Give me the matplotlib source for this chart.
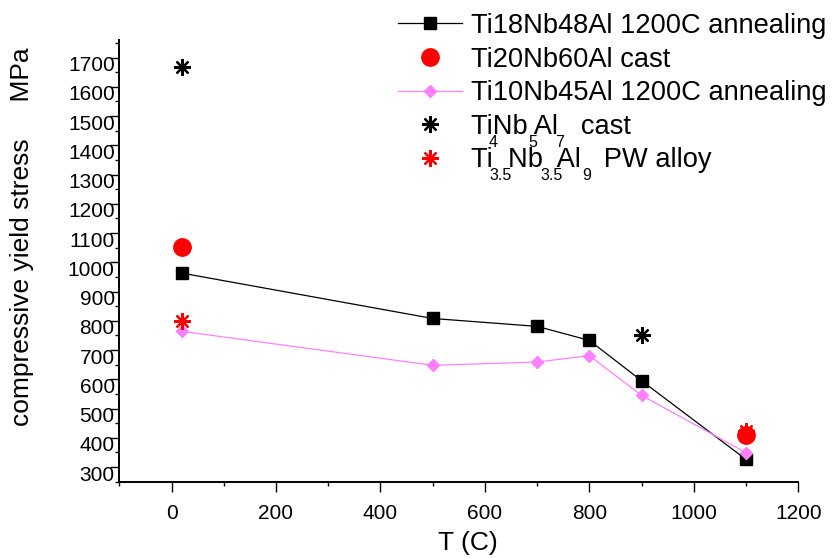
import matplotlib

matplotlib.use("Agg")
import matplotlib.pyplot as plt
from matplotlib.ticker import MultipleLocator
from matplotlib.transforms import ScaledTranslation

plt.rcParams["font.family"] = ["Liberation Sans", "DejaVu Sans"]

# Ti18Nb48Al, annealed at 1200C
t_ti18 = [20, 500, 700, 800, 900, 1100]
s_ti18 = [963, 808, 781, 733, 595, 326]

# Ti10Nb45Al, annealed at 1200C
t_ti10 = [20, 500, 700, 800, 900, 1100]
s_ti10 = [764, 648, 659, 681, 545, 349]

# Ti20Nb60Al cast
t_ti20 = [20, 1100]
s_ti20 = [1054, 408]

# Ti4Nb5Al7 cast
t_ti4 = [20, 900]
s_ti4 = [1669, 752]

# Ti3.5Nb3.5Al9 PW alloy
t_pw = [20, 1100]
s_pw = [801, 423]

x_ticks = [0, 200, 400, 600, 800, 1000, 1200]
y_ticks = list(range(300, 1800, 100))

PINK = "#ff80ff"
star = (8, 2, 0)

fig = plt.figure(figsize=(8.35, 5.58), dpi=100)
ax = fig.add_axes([119.3 / 835, 1 - 481.7 / 558, 679 / 835, 441.7 / 558])

l18, = ax.plot(t_ti18, s_ti18, color="black", lw=0.9, marker="s", ms=8,
               markerfacecolor="black", markeredgecolor="black", zorder=3)
c20, = ax.plot(t_ti20, s_ti20, ls="none", marker="o", ms=12.5, color="red", zorder=5)
l10, = ax.plot(t_ti10, s_ti10, color=PINK, lw=0.9, marker="D", ms=6.3,
               markerfacecolor=PINK, markeredgecolor=PINK, zorder=4)
st4, = ax.plot(t_ti4, s_ti4, ls="none", marker=star, ms=12, mew=1.6,
               color="black", zorder=4)
stpw, = ax.plot(t_pw, s_pw, ls="none", marker=star, ms=12, mew=1.6,
                color="red", zorder=4)

ax.set_xlim(-100, 1200)
ax.set_ylim(250, 1760)
ax.set_xticks(x_ticks)
ax.set_yticks(y_ticks)
ax.xaxis.set_minor_locator(MultipleLocator(100))
ax.yaxis.set_minor_locator(MultipleLocator(50))

for side in ["top", "right"]:
    ax.spines[side].set_visible(False)
for side in ["left", "bottom"]:
    ax.spines[side].set_linewidth(1.4)

ax.tick_params(axis="x", which="major", direction="out", length=7, width=1,
               labelsize=15, pad=9)
ax.tick_params(axis="x", which="minor", direction="out", length=3.1, width=1)
ax.tick_params(axis="y", which="major", direction="out", length=6.3, width=1,
               labelsize=15, pad=-3)
ax.tick_params(axis="y", which="minor", direction="out", length=3.1, width=1)

# labels of the original sit a little below their ticks
shift = ScaledTranslation(0, -0.06, fig.dpi_scale_trans)
for lab in ax.get_yticklabels():
    lab.set_transform(lab.get_transform() + shift)

ax.set_xlabel("T (C)", fontsize=19)
ax.xaxis.set_label_coords((468 - 119.3) / 679, -(531 - 481.7) / 441.7)

fig.text(22 / 835, 1 - 237 / 558, "compressive yield stress     MPa",
         rotation=90, ha="center", va="center", fontsize=19)

handles = [l18, c20, l10, st4, stpw]
labels = [
    "Ti18Nb48Al 1200C annealing",
    "Ti20Nb60Al cast",
    "Ti10Nb45Al 1200C annealing",
    "TiNb Al   cast",
    "Ti  Nb  Al   PW alloy",
]
ax.legend(handles, labels, loc="upper left",
          bbox_to_anchor=(398 / 835, 1 - 13 / 558), bbox_transform=fig.transFigure,
          frameon=False, borderpad=0, borderaxespad=0, handlelength=2.35,
          handletextpad=0.33, labelspacing=0.28, fontsize=19.6, numpoints=1)

# subscripts of the two formulas, drawn below the legend rows as in the original
subs = [("4", 493, 142.5), ("5", 532.5, 142.5), ("7", 560, 142.5),
        ("3.5", 500.5, 175), ("3.5", 551.5, 175), ("9", 587, 175)]
for txt, px, py in subs:
    fig.text(px / 835, 1 - py / 558, txt, ha="center", va="center", fontsize=11.5)

fig.savefig("out.png", dpi=100)
